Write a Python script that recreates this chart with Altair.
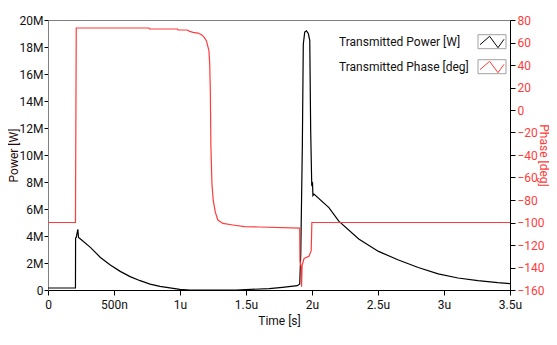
import altair as alt
import pandas as pd

# ---- data (time in microseconds) ----
time_power = [0.0, 0.208, 0.209, 0.214, 0.226, 0.231, 0.246, 0.321, 0.397, 0.472, 0.547,
              0.622, 0.698, 0.773, 0.848, 0.948, 0.999, 1.074, 1.426, 1.676, 1.776,
              1.889, 1.907, 1.915, 1.927, 1.934, 1.945, 1.958, 1.972, 1.983, 1.990,
              1.998, 2.004, 2.007, 2.015, 2.128, 2.203, 2.354, 2.504, 2.655, 2.805,
              2.956, 3.106, 3.257, 3.407, 3.5]
power_mw = [0.15, 0.15, 3.85, 3.9, 4.5, 3.9, 3.78, 3.16, 2.41, 1.85, 1.38,
            0.99, 0.69, 0.44, 0.27, 0.12, 0.05, 0.0, 0.0, 0.1, 0.2,
            0.32, 0.45, 2.7, 10.8, 18.2, 19.1, 19.2, 19.0, 18.5, 11.8,
            7.8, 7.9, 7.0, 7.1, 6.1, 5.1, 3.78, 2.86, 2.22, 1.67,
            1.19, 0.89, 0.69, 0.54, 0.47]

time_phase = [0.0, 0.208, 0.214, 0.765, 0.769, 0.981, 0.985, 1.054, 1.074, 1.099,
              1.137, 1.162, 1.179, 1.200, 1.219, 1.225, 1.230, 1.234, 1.242, 1.252,
              1.268, 1.287, 1.325, 1.400, 1.488, 1.601, 1.907, 1.909, 1.918, 1.921,
              1.925, 1.940, 1.977, 1.994, 1.999, 3.5]
phase_deg = [-100, -100, 72.9, 72.9, 72.0, 72.0, 71.1, 71.1, 69.9, 69.0,
             68.4, 66.9, 65.2, 61.6, 52.7, 41.0, 15.6, -31.7, -65.5, -80.6,
             -91.0, -97.8, -100.8, -102.2, -103.7, -104.0, -105.0, -134.0, -140.0, -157.0,
             -138.0, -132.0, -130.0, -125.0, -100.0, -100.0]

x_ticks = [0, 0.5, 1, 1.5, 2, 2.5, 3, 3.5]
power_ticks = [0, 2, 4, 6, 8, 10, 12, 14, 16, 18, 20]
phase_ticks = [-160, -140, -120, -100, -80, -60, -40, -20, 0, 20, 40, 60, 80]
legend_labels = ["Transmitted Power [W]", "Transmitted Phase [deg]"]

FONT = "Segoe UI, Roboto, Liberation Sans, sans-serif"
RED = "#ff3b3b"
W, H = 462, 270

df_p = pd.DataFrame({"t": time_power, "p": power_mw, "i": range(len(time_power))})
df_ph = pd.DataFrame({"t": time_phase, "ph": phase_deg, "i": range(len(time_phase))})

x_axis = alt.Axis(
    values=x_ticks, title="Time [s]", grid=False,
    labelExpr="datum.value == 0 ? '0' : (datum.value < 1 ? (datum.value*1000) + 'n' : datum.value + 'u')",
    domainColor="black", tickColor="black", tickSize=5, labelPadding=4,
    titlePadding=5, labelFlush=False, labelColor="#111111", titleColor="#111111",
    titleFontWeight="normal", labelFont=FONT, titleFont=FONT,
    labelFontSize=12, titleFontSize=12,
)
x_scale = alt.Scale(domain=[0, 3.5], nice=False)

power = alt.Chart(df_p).mark_line(color="black", strokeWidth=1.2).encode(
    x=alt.X("t:Q", scale=x_scale, axis=x_axis),
    y=alt.Y("p:Q", scale=alt.Scale(domain=[0, 20], nice=False),
            axis=alt.Axis(orient="left", values=power_ticks, grid=False,
                          title="Power [W]",
                          labelExpr="datum.value == 0 ? '0' : datum.value + 'M'",
                          domainColor="#808080", tickColor="black", tickSize=4,
                          labelPadding=1, titleX=-35, titleY=H / 2,
                          titleAngle=270, titleBaseline="middle", titleAlign="center",
                          labelColor="#111111", titleColor="#2a0808",
                          titleFontWeight="normal", labelFont=FONT, titleFont=FONT,
                          labelFontSize=12, titleFontSize=12)),
    order="i:Q",
)

phase = alt.Chart(df_ph).mark_line(color=RED, strokeWidth=1.2).encode(
    x=alt.X("t:Q", scale=x_scale, axis=x_axis),
    y=alt.Y("ph:Q", scale=alt.Scale(domain=[-160, 80], nice=False),
            axis=alt.Axis(orient="right", values=phase_ticks, grid=False,
                          title="Phase [deg]",
                          domainColor="black", tickColor="black", tickSize=5,
                          labelPadding=2, titleX=33, titleY=H / 2,
                          titleAngle=90, titleBaseline="middle", titleAlign="center",
                          labelColor=RED, titleColor=RED,
                          titleFontWeight="normal", labelFont=FONT, titleFont=FONT,
                          labelFontSize=12, titleFontSize=12)),
    order="i:Q",
)

# ---- legend (top-right, inside plot) ----
leg_layers = []
row_y = [21.7, 46.7]
colors = ["black", RED]
for lab, yy, col in zip(legend_labels, row_y, colors):
    d = pd.DataFrame({"label": [lab]})
    txt = alt.Chart(d).mark_text(align="left", baseline="middle", font=FONT,
                                 fontSize=12, color="#111111").encode(
        text="label:N", x=alt.value(291), y=alt.value(yy))
    box = alt.Chart(d).mark_rect(fill="white", stroke="#a0a0a0", strokeWidth=1).encode(
        x=alt.value(430), x2=alt.value(458), y=alt.value(yy - 7), y2=alt.value(yy + 7))
    zig = alt.Chart(d).mark_point(
        shape="M-1,0.25L-0.2,-0.45L0.5,0.5L1,-0.2", filled=False,
        stroke=col, strokeWidth=1, size=576, opacity=1).encode(
        x=alt.value(444), y=alt.value(yy))
    leg_layers += [txt, box, zig]

chart = alt.layer(power, phase, *leg_layers).resolve_scale(y="independent").properties(
    width=W, height=H,
    background="white",
    autosize=alt.AutoSizeParams(type="none"),
    padding={"left": 40, "top": 12, "right": 39, "bottom": 40},
).configure_view(
    stroke="#808080", strokeWidth=1
)

chart.save("out.html", embed_options={"renderer": "svg", "actions": False})
